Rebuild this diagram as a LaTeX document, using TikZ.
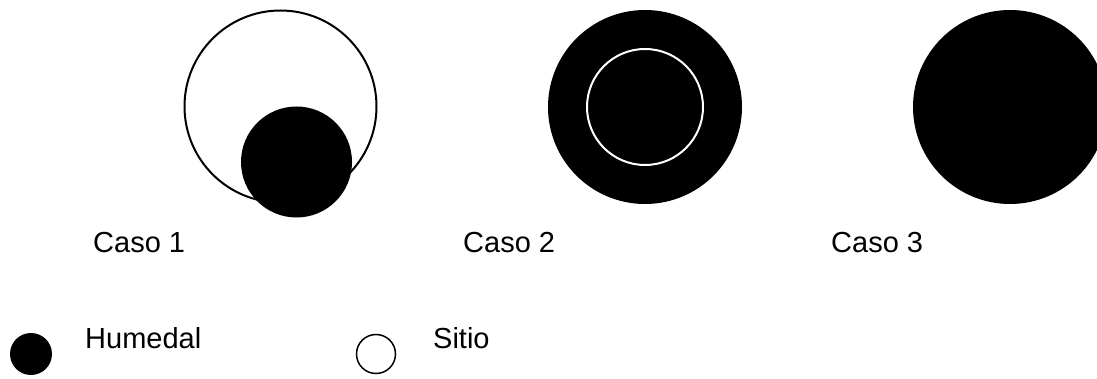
\documentclass[tikz,border=0pt]{standalone}
\usepackage{fontspec}
\setmainfont{Liberation Sans}
\begin{document}
\begin{tikzpicture}[x=1pt,y=-1pt,
    txt/.style={anchor=base west,inner sep=0pt,font=\fontsize{29}{34}\selectfont}]
    \useasboundingbox (0,0) rectangle (1097,379);
    \clip (0,0) rectangle (1097,379);
    % Caso 1
    \coordinate (S1) at (280.5,106.5);
    \coordinate (H1) at (296.5,162);
    \draw[line width=2pt] (S1) circle[radius=96];
    \fill (H1) circle[radius=55.5];
    % Caso 2
    \coordinate (H2) at (645,107);
    \fill (H2) circle[radius=97];
    \draw[white,line width=2pt] (H2) circle[radius=58];
    % Caso 3
    \coordinate (H3) at (1010,107);
    \fill (H3) circle[radius=97];
    \node[txt] (c1) at (93,253) {Caso 1};
    \node[txt] (c2) at (463,253) {Caso 2};
    \node[txt] (c3) at (831,253) {Caso 3};
    % leyenda
    \fill (31,354) circle[radius=21];
    \draw[line width=1.5pt] (376,354) circle[radius=19.5];
    \node[txt] (hum) at (85,348) {Humedal};
    \node[txt] (sit) at (433,348) {Sitio};
\end{tikzpicture}
\end{document}
